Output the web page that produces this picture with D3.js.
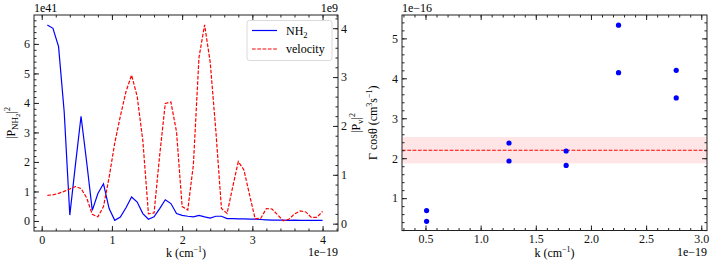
<!DOCTYPE html>
<html>
<head>
<meta charset="utf-8">
<script src="https://cdn.jsdelivr.net/npm/d3@7"></script>
<style>
  body { margin: 0; background: #fff; }
  svg { display: block; }
</style>
</head>
<body>
<svg id="chart" width="722" height="264" font-family="'Liberation Serif', 'Times New Roman', Times, serif"></svg>
<script>
// left panel: power spectra vs k (x1e-19 cm^-1)
var k = [0.08, 0.16, 0.24, 0.32, 0.40, 0.48, 0.56, 0.64, 0.72, 0.80,
         0.88, 0.96, 1.04, 1.12, 1.20, 1.28, 1.36, 1.44, 1.52, 1.60,
         1.68, 1.76, 1.84, 1.92, 2.00, 2.08, 2.16, 2.24, 2.32, 2.40,
         2.48, 2.56, 2.64, 2.72, 2.80, 2.88, 2.96, 3.04, 3.12, 3.20,
         3.28, 3.36, 3.44, 3.52, 3.60, 3.68, 3.76, 3.84, 3.92, 4.00];
// |P_NH2|^2 (x1e41)
var nh2 = [6.64, 6.53, 5.91, 3.70, 0.20, 1.90, 3.55, 2.00, 0.36, 0.93,
           1.26, 0.42, 0.02, 0.13, 0.45, 0.81, 0.64, 0.25, 0.06, 0.14,
           0.42, 0.72, 0.59, 0.25, 0.19, 0.16, 0.14, 0.19, 0.14, 0.10,
           0.16, 0.16, 0.08, 0.08, 0.07, 0.07, 0.06, 0.06, 0.05, 0.04,
           0.03, 0.03, 0.03, 0.02, 0.03, 0.02, 0.02, 0.02, 0.02, 0.02];
// |P_v|^2 (x1e9)
var vel = [0.58, 0.59, 0.62, 0.66, 0.71, 0.76, 0.72, 0.53, 0.19, 0.14,
           0.35, 0.95, 1.65, 2.20, 2.70, 3.04, 2.60, 1.70, 0.20, 0.22,
           1.40, 2.46, 2.49, 1.88, 0.35, 0.28, 1.20, 3.40, 4.07, 3.30,
           1.90, 0.31, 0.21, 0.75, 1.27, 1.10, 0.59, 0.10, 0.11, 0.31,
           0.30, 0.18, 0.06, 0.09, 0.20, 0.26, 0.24, 0.13, 0.13, 0.25];

// right panel: Gamma cos(theta) (x1e-16) vs k (x1e-19)
var kFit = [0.51, 0.51, 1.257, 1.257, 1.775, 1.775, 2.25, 2.25, 2.773, 2.773];
var gamma = [0.69, 0.42, 2.38, 1.93, 2.18, 1.82, 5.33, 4.14, 4.20, 3.51];
var gammaMean = 2.2, gammaLo = 1.87, gammaHi = 2.53;

var leftTicksX = [0, 1, 2, 3, 4];
var leftTicksY = [0, 1, 2, 3, 4, 5, 6];
var twinTicksY = [0, 1, 2, 3, 4];
var rightTicksX = [0.5, 1.0, 1.5, 2.0, 2.5, 3.0];
var rightTicksY = [1, 2, 3, 4, 5];

var svg = d3.select("#chart");
var FONT = 12;
var SERIF = "'Liberation Serif', 'Times New Roman', Times, serif";

// draws major + minor inward ticks for one side
function ticks(g, axisFn, scale, majors, minors, fmt, tr, pad) {
    g.append("g").attr("transform", tr)
        .call(axisFn(scale).tickValues(minors).tickSize(-2.5).tickFormat(""))
        .call(function(s){ s.select(".domain").remove(); s.selectAll("line").attr("stroke", "#222"); });
    var a = g.append("g").attr("transform", tr)
        .call(axisFn(scale).tickValues(majors).tickSize(-5).tickPadding(pad).tickFormat(fmt))
        .call(function(s){ s.select(".domain").remove(); s.selectAll("line").attr("stroke", "#222"); });
    a.attr("font-family", SERIF).attr("font-size", FONT);
    a.selectAll("text").attr("fill", "#111");
}
function minorsOf(scale, step) {
    var d = scale.domain();
    return d3.range(Math.ceil(d[0] / step) * step, d[1] + 1e-9, step).map(function(v){ return +v.toFixed(6); });
}
var noLbl = function(){ return ""; };

// ---------------- left panel ----------------
var L = {x0: 34, x1: 338, y0: 15, y1: 231};
var x = d3.scaleLinear().domain([-0.11, 4.22]).range([L.x0, L.x1]);
var yL = d3.scaleLinear().domain([-0.34, 6.98]).range([L.y1, L.y0]);
var yR = d3.scaleLinear().domain([-0.15, 4.27]).range([L.y1, L.y0]);

var gl = svg.append("g");
ticks(gl, d3.axisBottom, x, leftTicksX, minorsOf(x, 0.2), d3.format("d"), "translate(0," + L.y1 + ")", 4);
ticks(gl, d3.axisTop, x, leftTicksX, minorsOf(x, 0.2), noLbl, "translate(0," + L.y0 + ")", 3);
ticks(gl, d3.axisLeft, yL, leftTicksY, minorsOf(yL, 0.2), d3.format("d"), "translate(" + L.x0 + ",0)", 4);
ticks(gl, d3.axisRight, yR, twinTicksY, minorsOf(yR, 0.2), d3.format("d"), "translate(" + L.x1 + ",0)", 3);

gl.append("path")
    .datum(d3.range(k.length))
    .attr("fill", "none").attr("stroke", "blue").attr("stroke-width", 1.2)
    .attr("d", d3.line().x(function(i){ return x(k[i]); }).y(function(i){ return yL(nh2[i]); }));
gl.append("path")
    .datum(d3.range(k.length))
    .attr("fill", "none").attr("stroke", "red").attr("stroke-width", 1.2)
    .attr("stroke-dasharray", "3.7,1.6")
    .attr("d", d3.line().x(function(i){ return x(k[i]); }).y(function(i){ return yR(vel[i]); }));

gl.append("rect").attr("x", L.x0).attr("y", L.y0).attr("width", L.x1 - L.x0).attr("height", L.y1 - L.y0)
    .attr("fill", "none").attr("stroke", "#222").attr("stroke-width", 1);

// offsets and labels
gl.append("text").attr("x", L.x0).attr("y", 12).attr("font-size", FONT).text("1e41");
gl.append("text").attr("x", L.x1).attr("y", 12).attr("font-size", FONT).attr("text-anchor", "end").text("1e9");
gl.append("text").attr("x", L.x1).attr("y", 256).attr("font-size", FONT).attr("text-anchor", "end").text("1e\u221219");

var xl = gl.append("text").attr("x", (L.x0 + L.x1) / 2).attr("y", 257).attr("font-size", FONT).attr("text-anchor", "middle");
xl.append("tspan").text("k (cm");
xl.append("tspan").attr("font-size", 8).attr("dy", -5).text("\u22121");
xl.append("tspan").attr("dy", 5).text(")");

var ylab = gl.append("text").attr("transform", "translate(15," + (L.y0 + L.y1) / 2 + ") rotate(-90)")
    .attr("font-size", FONT).attr("text-anchor", "middle");
ylab.append("tspan").text("|P");
ylab.append("tspan").attr("font-size", 9).attr("dy", 3).text("NH");
ylab.append("tspan").attr("font-size", 7).attr("dy", 2).text("2");
ylab.append("tspan").attr("dy", -5).text("|");
ylab.append("tspan").attr("font-size", 8).attr("dy", -5).text("2");

var y2lab = gl.append("text").attr("transform", "translate(360," + (L.y0 + L.y1) / 2 + ") rotate(-90)")
    .attr("font-size", FONT).attr("text-anchor", "middle");
y2lab.append("tspan").text("|P");
y2lab.append("tspan").attr("font-size", 9).attr("dy", 3).text("v");
y2lab.append("tspan").attr("dy", -3).text("|");
y2lab.append("tspan").attr("font-size", 8).attr("dy", -5).text("2");

// legend
var lg = gl.append("g");
lg.append("rect").attr("x", 247).attr("y", 20.5).attr("width", 85).attr("height", 40).attr("rx", 2.5)
    .attr("fill", "#fff").attr("fill-opacity", 0.8).attr("stroke", "#d0d0d0").attr("stroke-width", 0.8);
lg.append("line").attr("x1", 252).attr("x2", 277).attr("y1", 30.5).attr("y2", 30.5)
    .attr("stroke", "blue").attr("stroke-width", 1.2);
lg.append("line").attr("x1", 252).attr("x2", 277).attr("y1", 49).attr("y2", 49)
    .attr("stroke", "red").attr("stroke-width", 1.2).attr("stroke-dasharray", "3.7,1.6");
var t1 = lg.append("text").attr("x", 286).attr("y", 34.5).attr("font-size", FONT);
t1.append("tspan").text("NH");
t1.append("tspan").attr("font-size", 8.5).attr("dy", 3).text("2");
lg.append("text").attr("x", 286).attr("y", 53).attr("font-size", FONT).text("velocity");

// ---------------- right panel ----------------
var R = {x0: 402, x1: 707, y0: 15, y1: 230.5};
var xr = d3.scaleLinear().domain([0.287, 3.052]).range([R.x0, R.x1]);
var yr = d3.scaleLinear().domain([0.19, 5.585]).range([R.y1, R.y0]);

var gr = svg.append("g");
gr.append("rect").attr("x", R.x0).attr("width", R.x1 - R.x0)
    .attr("y", yr(gammaHi)).attr("height", yr(gammaLo) - yr(gammaHi))
    .attr("fill", "red").attr("fill-opacity", 0.1);
gr.append("line").attr("x1", R.x0).attr("x2", R.x1).attr("y1", yr(gammaMean)).attr("y2", yr(gammaMean))
    .attr("stroke", "red").attr("stroke-width", 1.1).attr("stroke-dasharray", "3.7,1.6");

ticks(gr, d3.axisBottom, xr, rightTicksX, minorsOf(xr, 0.1), d3.format(".1f"), "translate(0," + R.y1 + ")", 4);
ticks(gr, d3.axisTop, xr, rightTicksX, minorsOf(xr, 0.1), noLbl, "translate(0," + R.y0 + ")", 3);
ticks(gr, d3.axisLeft, yr, rightTicksY, minorsOf(yr, 0.2), d3.format("d"), "translate(" + R.x0 + ",0)", 4);
ticks(gr, d3.axisRight, yr, rightTicksY, minorsOf(yr, 0.2), noLbl, "translate(" + R.x1 + ",0)", 3);

gr.selectAll("circle.pt").data(d3.range(kFit.length)).enter().append("circle")
    .attr("class", "pt")
    .attr("cx", function(i){ return xr(kFit[i]); })
    .attr("cy", function(i){ return yr(gamma[i]); })
    .attr("r", 2.6).attr("fill", "blue");

gr.append("rect").attr("x", R.x0).attr("y", R.y0).attr("width", R.x1 - R.x0).attr("height", R.y1 - R.y0)
    .attr("fill", "none").attr("stroke", "#222").attr("stroke-width", 1);

gr.append("text").attr("x", R.x0).attr("y", 12).attr("font-size", FONT).text("1e\u221216");
gr.append("text").attr("x", R.x1).attr("y", 256).attr("font-size", FONT).attr("text-anchor", "end").text("1e\u221219");

var xl2 = gr.append("text").attr("x", (R.x0 + R.x1) / 2).attr("y", 257).attr("font-size", FONT).attr("text-anchor", "middle");
xl2.append("tspan").text("k (cm");
xl2.append("tspan").attr("font-size", 8).attr("dy", -5).text("\u22121");
xl2.append("tspan").attr("dy", 5).text(")");

var gl2 = gr.append("text").attr("transform", "translate(377," + (R.y0 + R.y1) / 2 + ") rotate(-90)")
    .attr("font-size", FONT).attr("text-anchor", "middle");
gl2.append("tspan").text("\u0393 cos\u03b8 (cm");
gl2.append("tspan").attr("font-size", 8).attr("dy", -5).text("3");
gl2.append("tspan").attr("dy", 5).text("s");
gl2.append("tspan").attr("font-size", 8).attr("dy", -5).text("\u22121");
gl2.append("tspan").attr("dy", 5).text(")");
</script>
</body>
</html>
